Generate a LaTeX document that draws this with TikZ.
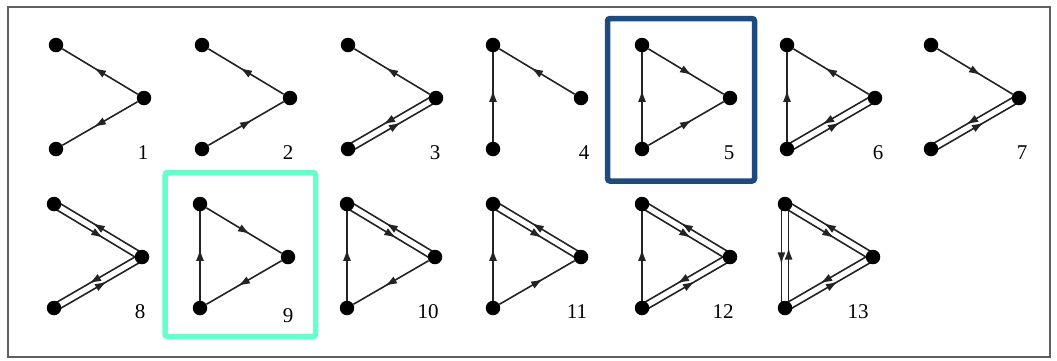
\documentclass[tikz,border=0pt]{standalone}
\usepackage{fontspec}
\setmainfont{Liberation Serif}
\usetikzlibrary{calc,arrows.meta,decorations.markings}
\pgfdeclarelayer{bg}
\pgfdeclarelayer{edges}
\pgfsetlayers{bg,edges,main}
\definecolor{boxblue}{RGB}{31,74,126}
\definecolor{boxmint}{RGB}{102,255,204}
\definecolor{linegray}{RGB}{35,35,35}
\tikzset{
  dot/.style={circle,fill=black,inner sep=0pt,minimum size=14.5pt},
  edge/.style={draw=linegray,line width=1.6pt,
    postaction={decorate},
    decoration={markings,mark=at position 0.58 with {\arrow[linegray]{Latex[length=12pt,width=8pt]}}}},
  lbl/.style={font=\fontsize{21}{22}\selectfont,inner sep=0pt},
  hbox/.style={line width=5.5pt,rounded corners=2.5pt},
}
\newcommand{\triad}[3]{%
  \node[dot] (t#1) at (#2,#3) {};
  \node[dot] (r#1) at (#2+88,#3+53) {};
  \node[dot] (b#1) at (#2,#3+104) {};
}
\newcommand{\one}[2]{\draw[edge] (#1) -- (#2);}
\newcommand{\two}[2]{%
  \draw[edge] ($(#1)!3.6pt!-90:(#2)$) -- ($(#2)!3.6pt!90:(#1)$);
  \draw[edge] ($(#2)!3.6pt!-90:(#1)$) -- ($(#1)!3.6pt!90:(#2)$);}
\begin{document}
\begin{tikzpicture}[x=1pt,y=-1pt]
\useasboundingbox (0,0) rectangle (1057,360);
\begin{pgfonlayer}{bg}
  \fill[white] (0,0) rectangle (1057,360);
  \draw[draw={rgb,255:red,95;green,95;blue,95},line width=2.2pt] (8,7) rectangle (1050,357);
\end{pgfonlayer}
% row 1
\triad{1}{56}{45}
\triad{2}{202}{45}
\triad{3}{348}{45}
\triad{4}{493}{45}
\triad{5}{642}{45}
\triad{6}{787}{45}
\triad{7}{931}{45}
% row 2
\triad{8}{54}{204}
\triad{9}{200}{204}
\triad{10}{347}{204}
\triad{11}{493}{204}
\triad{12}{642}{204}
\triad{13}{785}{204}
\begin{pgfonlayer}{edges}
  % 1
  \one{r1}{t1} \one{r1}{b1}
  % 2
  \one{b2}{r2} \one{r2}{t2}
  % 3
  \one{r3}{t3} \two{r3}{b3}
  % 4
  \one{b4}{t4} \one{r4}{t4}
  % 5
  \one{b5}{t5} \one{t5}{r5} \one{b5}{r5}
  % 6
  \one{b6}{t6} \one{r6}{t6} \two{r6}{b6}
  % 7
  \one{t7}{r7} \two{r7}{b7}
  % 8
  \two{t8}{r8} \two{r8}{b8}
  % 9
  \one{b9}{t9} \one{t9}{r9} \one{r9}{b9}
  % 10
  \two{t10}{r10} \one{b10}{t10} \one{r10}{b10}
  % 11
  \two{t11}{r11} \one{b11}{t11} \one{b11}{r11}
  % 12
  \two{t12}{r12} \two{r12}{b12} \one{b12}{t12}
  % 13
  \two{t13}{r13} \two{r13}{b13} \two{t13}{b13}
\end{pgfonlayer}
% labels
\node[lbl] (l1) at (143,153) {1};
\node[lbl] (l2) at (288,153) {2};
\node[lbl] (l3) at (435,153) {3};
\node[lbl] (l4) at (584,153) {4};
\node[lbl] (l5) at (729,153) {5};
\node[lbl] (l6) at (878,153) {6};
\node[lbl] (l7) at (1022,153) {7};
\node[lbl] (l8) at (140,312) {8};
\node[lbl] (l9) at (288,316) {9};
\node[lbl] (l10) at (428,312) {10};
\node[lbl] (l11) at (577,312) {11};
\node[lbl] (l12) at (723,312) {12};
\node[lbl] (l13) at (858,312) {13};
% highlight boxes
\draw[hbox,draw=boxblue] (607.5,18.5) rectangle (754.5,181);
\draw[hbox,draw=boxmint] (165,172.5) rectangle (315.5,336.5);
\end{tikzpicture}
\end{document}
